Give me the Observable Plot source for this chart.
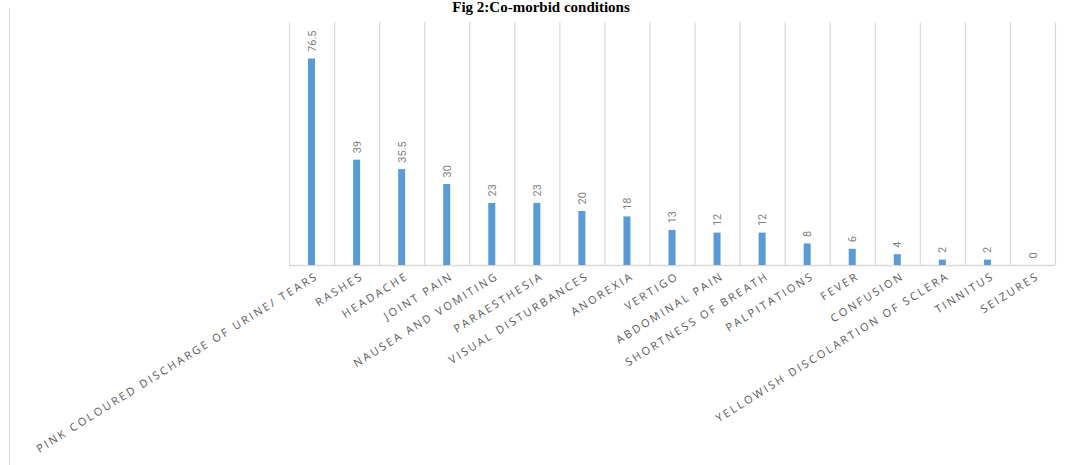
<!DOCTYPE html>
<html>
<head>
<meta charset="utf-8">
<script src="https://cdn.jsdelivr.net/npm/d3@7"></script>
<script src="https://cdn.jsdelivr.net/npm/@observablehq/plot@0.6"></script>
<style>
  html, body { margin: 0; padding: 0; background: #fff; }
  #wrap { position: relative; width: 1065px; height: 465px; overflow: hidden; background: #fff; }
  #chart { position: absolute; left: 0; top: 0; }
  #title { position: absolute; left: 0; width: 1082px; top: 0px; text-align: center; z-index: 2;
           font: bold 15px "Liberation Serif", "Times New Roman", serif; line-height: 15px; color: #000; }
  #frame { position: absolute; left: 9px; top: 8px; width: 0; height: 460px; border-left: 1.5px solid #d9d9d9; z-index: 2; }
</style>
</head>
<body>
<div id="wrap">
  <div id="chart"></div>
  <div id="title">Fig 2:Co-morbid conditions</div>
  <div id="frame"></div>
</div>
<script>
const categories = [
  "PINK COLOURED DISCHARGE OF URINE/ TEARS",
  "RASHES",
  "HEADACHE",
  "JOINT PAIN",
  "NAUSEA AND VOMITING",
  "PARAESTHESIA",
  "VISUAL DISTURBANCES",
  "ANOREXIA",
  "VERTIGO",
  "ABDOMINAL PAIN",
  "SHORTNESS OF BREATH",
  "PALPITATIONS",
  "FEVER",
  "CONFUSION",
  "YELLOWISH DISCOLARTION OF SCLERA",
  "TINNITUS",
  "SEIZURES"
];
const values = [76.5, 39, 35.5, 30, 23, 23, 20, 18, 13, 12, 12, 8, 6, 4, 2, 2, 0];

const data = categories.map((c, i) => ({i, category: c, value: values[i]}));
const boundaries = d3.range(categories.length + 1).map(k => k - 0.5);
const half = 0.078;

const chart = Plot.plot({
  width: 1065,
  height: 465,
  marginTop: 22,
  marginBottom: 200,
  marginLeft: 289,
  marginRight: 10,
  x: {type: "linear", domain: [-0.5, categories.length - 0.5], axis: null},
  y: {domain: [0, 90], axis: null},
  style: {fontFamily: "'Open Sans', sans-serif", background: "transparent"},
  marks: [
    Plot.ruleX(boundaries, {x: d => d, y1: 0, y2: 90, stroke: "#d9d9d9", strokeWidth: 1.2}),
    Plot.ruleY([0], {stroke: "#d9d9d9", strokeWidth: 1.5}),
    Plot.rectY(data, {x1: d => d.i - half, x2: d => d.i + half, y1: 0, y2: "value", fill: "#5b9bd5"}),
    Plot.text(data, {x: "i", y: "value", text: d => String(d.value), rotate: -90, textAnchor: "start",
                     dy: -7, fill: "#7f7f7f", fontSize: 11, fontFamily: "Roboto, sans-serif"}),
    Plot.text(data, {x: "i", y: 0, text: "category", rotate: -32, textAnchor: "end", lineAnchor: "top",
                     dx: 3, dy: 6, fill: "#595959", fontSize: 11})
  ]
});
document.getElementById("chart").appendChild(chart);
const catSet = new Set(categories);
chart.querySelectorAll("text").forEach(t => {
  if (catSet.has(t.textContent)) t.setAttribute("letter-spacing", "2.3px");
});
</script>
</body>
</html>
